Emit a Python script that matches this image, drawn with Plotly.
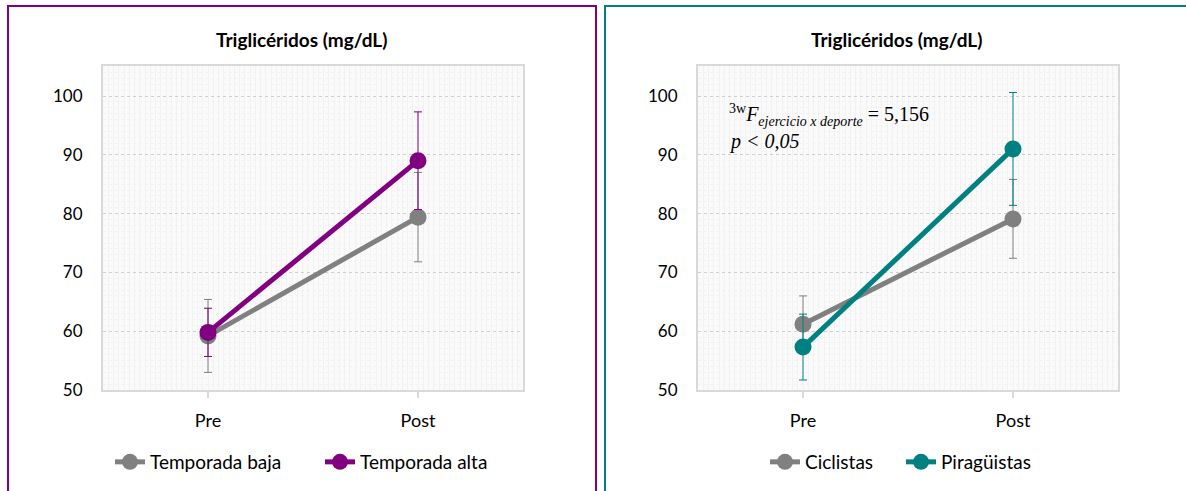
import plotly.graph_objects as go

categories = ["Pre", "Post"]
tick_labels = ["50", "60", "70", "80", "90", "100"]

# Left panel
baja_vals = [59.2, 79.4]
baja_err = [6.2, 7.6]
alta_vals = [59.8, 89.0]
alta_err = [4.1, 8.3]

# Right panel
ciclistas_vals = [61.2, 79.1]
ciclistas_err = [4.8, 6.7]
piraguistas_vals = [57.3, 91.0]
piraguistas_err = [5.6, 9.6]

GRAY = "#808080"
PURPLE = "#800080"
TEAL = "#008080"
FONT = "Lato"

W, H = 1186, 491
xpos = list(range(len(categories)))

fig = go.Figure()

def add_series(vals, err, color, name, xa, ya, legend):
    fig.add_trace(go.Scatter(
        x=xpos, y=vals, name=name, mode="lines+markers",
        line=dict(color=color, width=5),
        marker=dict(color=color, size=17),
        error_y=dict(type="data", array=err, color=color, thickness=1, width=4),
        xaxis=xa, yaxis=ya, legend=legend,
    ))

add_series(baja_vals, baja_err, GRAY, "Temporada baja", "x", "y", "legend")
add_series(alta_vals, alta_err, PURPLE, "Temporada alta", "x", "y", "legend")
add_series(ciclistas_vals, ciclistas_err, GRAY, "Ciclistas", "x2", "y2", "legend2")
add_series(piraguistas_vals, piraguistas_err, TEAL, "Piragüistas", "x2", "y2", "legend2")

def px_x(p):
    return p / W

def px_y(p):
    return 1 - p / H

ydom = [px_y(390), px_y(66)]
yrange = [50, 50 + (390 - 66) / 5.88]

xaxis_common = dict(
    range=[-0.5, 1.5], tickmode="array", tickvals=xpos, ticktext=categories,
    showgrid=False, zeroline=False, showline=True, linecolor="#d9d9d9", linewidth=2,
    mirror=True, ticks="outside", ticklen=6, tickcolor="#d9d9d9", tickwidth=2,
    ticklabelstandoff=7,
    tickfont=dict(family=FONT, size=18, color="#000"),
    minor=dict(dtick=0.025, showgrid=True, gridcolor="#f2f2f2", gridwidth=1, ticks=""),
    fixedrange=True,
)
yaxis_common = dict(
    range=yrange, tickmode="array", tickvals=[50, 60, 70, 80, 90, 100], ticktext=tick_labels,
    showgrid=True, gridcolor="#cfcfcf", griddash="dot", gridwidth=1,
    zeroline=False, showline=True, linecolor="#d9d9d9", linewidth=2, mirror=True,
    ticks="", ticklabelstandoff=15,
    tickfont=dict(family=FONT, size=17, color="#000"),
    minor=dict(dtick=1, showgrid=True, gridcolor="#f2f2f2", gridwidth=1, ticks=""),
    fixedrange=True,
)

fig.update_layout(
    width=W, height=H,
    margin=dict(l=0, r=0, t=0, b=0, autoexpand=False),
    paper_bgcolor="white",
    plot_bgcolor="#fafafa",
    xaxis=dict(domain=[px_x(103), px_x(523)], anchor="y", **xaxis_common),
    yaxis=dict(domain=ydom, anchor="x", **yaxis_common),
    xaxis2=dict(domain=[px_x(698), px_x(1118)], anchor="y2", **xaxis_common),
    yaxis2=dict(domain=ydom, anchor="x2", **yaxis_common),
    legend=dict(orientation="h", x=px_x(110), y=px_y(462), xanchor="left", yanchor="middle",
                font=dict(family=FONT, size=19, color="#000"), bgcolor="rgba(0,0,0,0)",
                entrywidth=165, entrywidthmode="pixels", tracegroupgap=0),
    legend2=dict(orientation="h", x=px_x(765), y=px_y(462), xanchor="left", yanchor="middle",
                 font=dict(family=FONT, size=19, color="#000"), bgcolor="rgba(0,0,0,0)",
                 entrywidth=91, entrywidthmode="pixels", tracegroupgap=0),
    showlegend=True,
)

# Panel borders
fig.add_shape(type="rect", xref="paper", yref="paper",
              x0=px_x(8), x1=px_x(596), y0=px_y(495), y1=px_y(6),
              line=dict(color=PURPLE, width=2), layer="below")
fig.add_shape(type="rect", xref="paper", yref="paper",
              x0=px_x(605), x1=px_x(1190), y0=px_y(495), y1=px_y(6),
              line=dict(color=TEAL, width=2), layer="below")

# Titles
for cx in (302, 897):
    fig.add_annotation(text="<b>Triglicéridos (mg/dL)</b>", xref="paper", yref="paper",
                       x=px_x(cx), y=px_y(39), xanchor="center", yanchor="middle",
                       showarrow=False, font=dict(family=FONT, size=19, color="#000"))

# Statistical annotation
fig.add_annotation(
    text="<sup>3w</sup><i>F<sub>ejercicio x deporte</sub></i> = 5,156",
    xref="paper", yref="paper", x=px_x(727), y=px_y(115), xanchor="left", yanchor="middle",
    showarrow=False, font=dict(family="Liberation Serif", size=20, color="#000"))
fig.add_annotation(
    text="<i>p < 0,05</i>",
    xref="paper", yref="paper", x=px_x(727), y=px_y(142), xanchor="left", yanchor="middle",
    showarrow=False, font=dict(family="Liberation Serif", size=20, color="#000"))

fig.write_html("out.html")
